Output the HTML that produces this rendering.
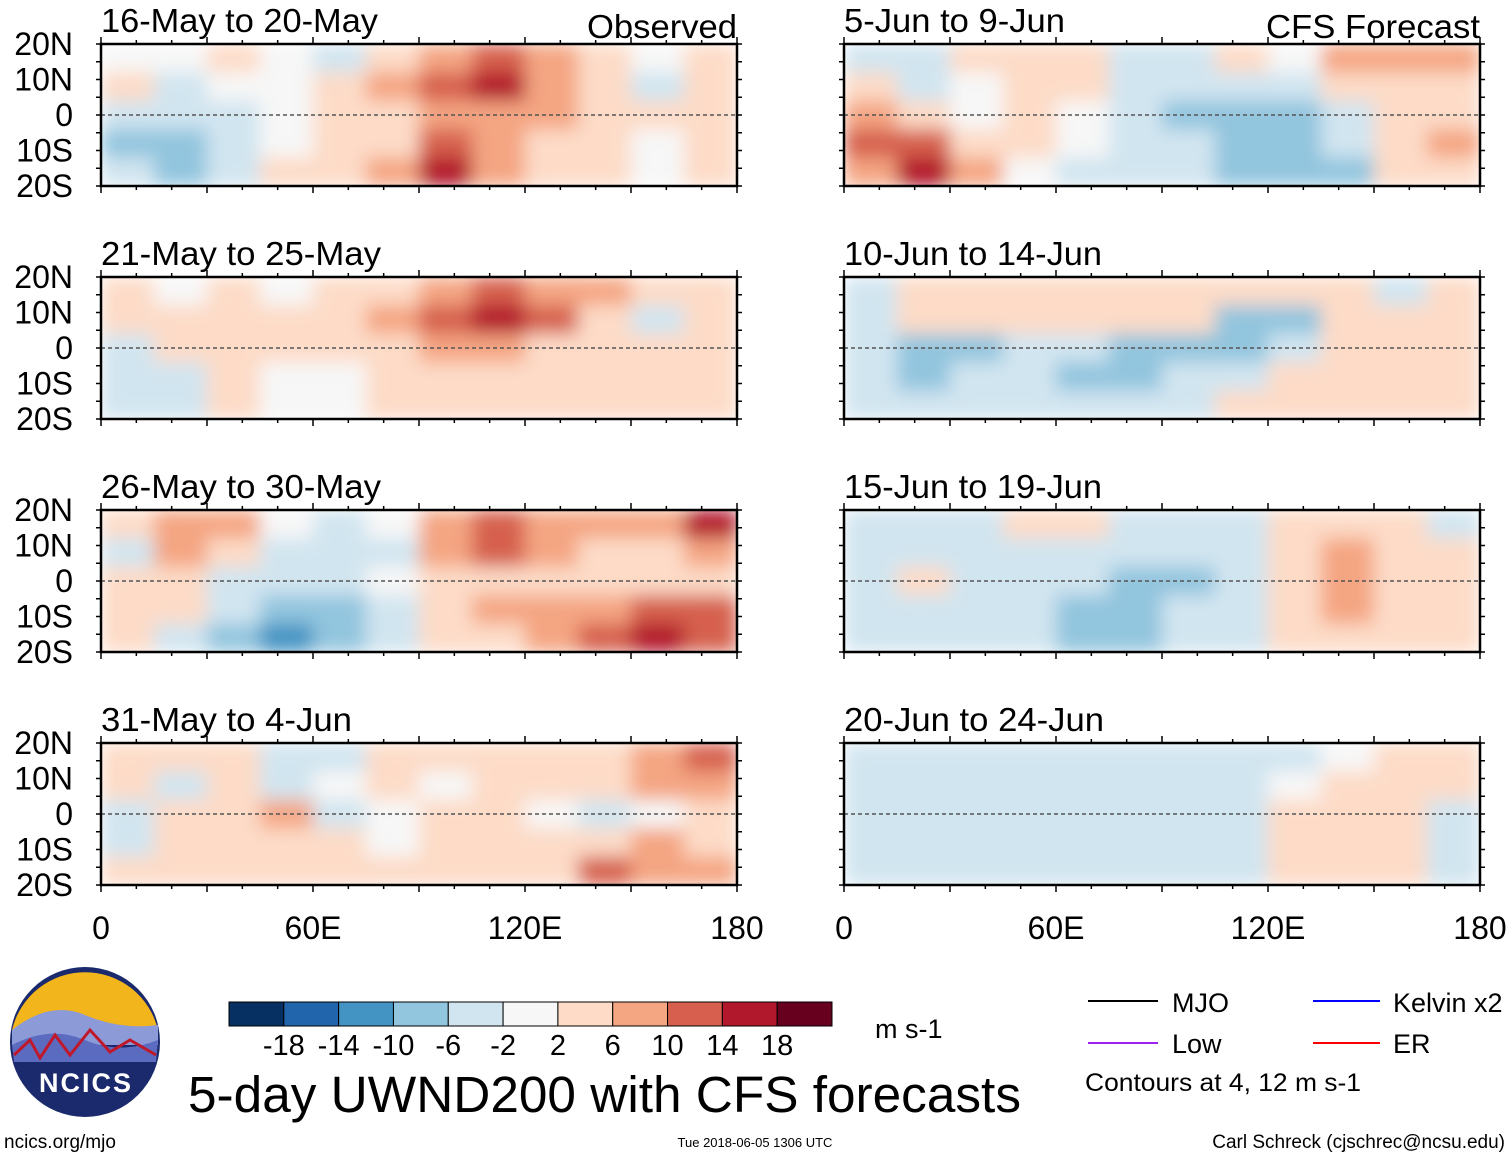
<!DOCTYPE html>
<html><head><meta charset="utf-8">
<style>
html,body{margin:0;padding:0;background:#fff;}
body{width:1510px;height:1158px;overflow:hidden;font-family:"Liberation Sans",sans-serif;}
</style></head>
<body>
<svg id="chart" width="1510" height="1158" viewBox="0 0 1510 1158" xmlns="http://www.w3.org/2000/svg" font-family="Liberation Sans, sans-serif">
<defs>
<filter id="blur" x="0" y="0" width="1" height="1"><feGaussianBlur stdDeviation="9" edgeMode="duplicate"/></filter>
</defs>
<g id="panels"></g>
<g>
<circle cx="85" cy="1042" r="75" fill="#1a2a6c"/>
<path d="M12,1030 A75,75 0 0 1 158,1030 Z" fill="#f2b51c"/>
<path d="M12,1030 Q50,1000 85,1015 T158,1025 L158,1045 L12,1045 Z" fill="#8c9ad8"/>
<path d="M12,1045 Q50,1025 85,1040 T158,1040 L156,1062 L14,1062 Z" fill="#5b6bc0"/>
<path d="M14,1055 L30,1040 L40,1058 L55,1035 L70,1055 L90,1030 L110,1052 L130,1040 L156,1055" stroke="#c0182b" stroke-width="3" fill="none"/>
<text x="86" y="1092" font-size="27" font-weight="bold" fill="#fff" text-anchor="middle" letter-spacing="2">NCICS</text>
</g>
<g id="cbar"></g>
<text x="875" y="1038" font-size="27">m s-1</text>
<text x="188" y="1112" font-size="51" textLength="833" lengthAdjust="spacingAndGlyphs">5-day UWND200 with CFS forecasts</text>
<g font-size="27">
<line x1="1088" y1="1001" x2="1158" y2="1001" stroke="#000" stroke-width="2"/><text x="1172" y="1012">MJO</text>
<line x1="1313" y1="1001" x2="1380" y2="1001" stroke="#0000ff" stroke-width="2"/><text x="1393" y="1012">Kelvin x2</text>
<line x1="1088" y1="1043" x2="1158" y2="1043" stroke="#a020f0" stroke-width="2"/><text x="1172" y="1053">Low</text>
<line x1="1313" y1="1043" x2="1380" y2="1043" stroke="#ff0000" stroke-width="2"/><text x="1393" y="1053">ER</text>
<text x="1085" y="1091" font-size="25" textLength="276" lengthAdjust="spacingAndGlyphs">Contours at 4, 12 m s-1</text>
</g>
<text x="4" y="1148" font-size="19">ncics.org/mjo</text>
<text x="755" y="1147" font-size="13" text-anchor="middle">Tue 2018-06-05 1306 UTC</text>
<text x="1505" y="1148" font-size="19" text-anchor="end">Carl Schreck (cjschrec@ncsu.edu)</text>
</svg>
<script>
const titles=["16-May to 20-May","21-May to 25-May","26-May to 30-May","31-May to 4-Jun","5-Jun to 9-Jun","10-Jun to 14-Jun","15-Jun to 19-Jun","20-Jun to 24-Jun"];
const latTicks=["20N","10N","0","10S","20S"];
const lonTicks=["0","60E","120E","180"];
const cbarLabels=["-18","-14","-10","-6","-2","2","6","10","14","18"];
const p1=[[0,0,2,0,-2,4,8,10,6,2,0,2],[2,-2,0,0,2,6,12,14,8,2,-4,2],[-2,-4,-2,0,2,2,6,8,6,2,2,2],[-6,-6,-2,0,2,4,10,8,4,2,0,2],[-4,-6,-2,2,2,6,14,8,4,2,0,2]];
const p2=[[2,0,2,0,2,4,8,12,8,6,4,2],[2,4,4,4,4,6,10,14,10,4,-2,2],[-2,2,2,4,4,4,6,6,4,2,2,2],[-2,-2,2,0,0,2,2,4,2,2,2,2],[-2,-2,2,0,0,2,4,4,2,2,4,4]];
const p3=[[2,8,6,0,-2,0,8,10,6,6,8,14],[-2,6,2,-2,-2,-2,6,12,6,4,4,6],[2,4,-2,-4,-4,0,4,4,4,2,4,4],[4,2,-4,-8,-6,-2,2,6,6,8,10,10],[4,-2,-6,-10,-8,-2,2,4,6,10,14,10]];
const p4=[[4,2,2,-2,-2,2,2,4,2,2,8,12],[2,-2,2,-2,0,2,0,4,2,2,6,6],[-2,2,4,8,-2,0,2,2,0,-2,0,2],[-2,2,4,4,2,0,2,4,2,4,6,4],[2,2,2,2,2,2,4,4,4,10,8,6]];
const p5=[[-2,-2,2,2,2,-2,-2,2,0,6,8,8],[2,-2,0,2,2,-2,-2,-4,-2,2,2,2],[8,4,0,2,0,-2,-6,-8,-6,-2,2,4],[10,12,4,2,0,-2,-4,-8,-8,-4,2,8],[8,14,6,0,-2,-2,-4,-6,-8,-6,2,4]];
const p6=[[-2,2,2,2,2,4,2,4,4,2,-2,2],[-2,2,2,2,4,4,2,-8,-6,2,4,2],[-4,-6,-6,-4,-4,-6,-8,-6,-2,2,4,2],[-4,-6,-4,-2,-6,-6,-4,-2,2,2,2,2],[-2,-2,-4,-2,-4,-2,-2,2,4,4,2,2]];
const p7=[[-2,-2,-2,2,2,-2,-4,-2,2,4,2,-2],[-2,-2,-2,-4,-2,-4,-4,-2,4,6,4,2],[-2,4,-2,-2,-4,-6,-8,-4,2,6,4,2],[-4,-2,-4,-4,-6,-6,-4,-2,4,6,4,2],[-4,-2,-2,-4,-6,-6,-4,-2,4,4,2,2]];
const p8=[[-2,-2,-2,-2,-2,-2,-2,-2,-2,0,2,2],[-4,-2,-2,-2,-2,-2,-2,-2,0,2,2,2],[-4,-2,-2,-2,-2,-2,-2,-2,2,2,2,-2],[-4,-4,-2,-4,-2,-2,-2,-2,2,2,2,-2],[-4,-2,-2,-2,-2,-2,-2,-2,2,2,2,-2]];
const panelData=[p1,p2,p3,p4,p5,p6,p7,p8];
const colors=["#053061","#2166ac","#4393c3","#92c5de","#d1e5f0","#f7f7f7","#fddbc7","#f4a582","#d6604d","#b2182b","#67001f"];
function colorFor(v){
  if(v<=-18)return colors[0];if(v<=-14)return colors[1];if(v<=-10)return colors[2];if(v<=-6)return colors[3];if(v<=-2)return colors[4];
  if(v<2)return colors[5];if(v<6)return colors[6];if(v<10)return colors[7];if(v<14)return colors[8];if(v<18)return colors[9];return colors[10];
}
const NS="http://www.w3.org/2000/svg";
function mk(t,a,p){const e=document.createElementNS(NS,t);for(const k in a)e.setAttribute(k,a[k]);p.appendChild(e);return e;}
const root=document.getElementById('panels');
const W=636,H=142,rowsY=[44,277,510,743],colsX=[101,844];
panelData.forEach((d,i)=>{
  const x0=colsX[i<4?0:1],y0=rowsY[i%4];
  const g=mk('g',{},root);
  
  
  const xs=lon=>x0+lon/180*W, ys=lat=>y0+(20-lat)/40*H;
  const cp=mk('clipPath',{id:'cp'+i},g);mk('rect',{x:x0,y:y0,width:W,height:H},cp);
  const hg=mk('g',{'clip-path':'url(#cp'+i+')'},g);
  const bg=mk('g',{filter:'url(#blur)'},hg);
  const nr=d.length,nc=d[0].length;
  d.forEach((row,r)=>row.forEach((v,c)=>{
    const la=20-r*40/nr,lo=c*180/nc;
    const re=mk('rect',{x:xs(lo),y:ys(la),width:xs(lo+180/nc)-xs(lo)+0.5,height:ys(la-40/nr)-ys(la)+0.5,fill:colorFor(v)},bg);
    
    
  }));
  const eq=mk('line',{x1:x0,x2:x0+W,y1:ys(0),y2:ys(0),stroke:'#555','stroke-dasharray':'4,3','stroke-width':1.5},g);
  
  
  const fr=mk('rect',{x:x0,y:y0,width:W,height:H,fill:'none',stroke:'#000','stroke-width':2.5},g);
  
  
  for(let lo=0;lo<=180;lo+=10){const L=lo%30==0?7:4;mk('line',{x1:xs(lo),x2:xs(lo),y1:y0,y2:y0-L,stroke:'#000','stroke-width':1.5},g);mk('line',{x1:xs(lo),x2:xs(lo),y1:y0+H,y2:y0+H+L,stroke:'#000','stroke-width':1.5},g);}
  for(let la=-20;la<=20;la+=5){mk('line',{x1:x0,x2:x0-5,y1:ys(la),y2:ys(la),stroke:'#000','stroke-width':1.5},g);mk('line',{x1:x0+W,x2:x0+W+5,y1:ys(la),y2:ys(la),stroke:'#000','stroke-width':1.5},g);}
  const tw=[277,280,280,251,221,258,258,260][i];
  const t=mk('text',{x:x0,y:y0-12,'font-size':33,textLength:tw,lengthAdjust:'spacingAndGlyphs'},g);t.textContent=titles[i];
  
  
  if(i==0||i==4){const s=mk('text',{x:x0+W,y:y0-6,'font-size':33,'text-anchor':'end',textLength:i==0?150:214,lengthAdjust:'spacingAndGlyphs'},g);s.textContent=i==0?'Observed':'CFS Forecast';
    
    }
  if(i<4){latTicks.forEach((lb,k)=>{const tt=mk('text',{x:73,y:ys(20-k*10)+11,'font-size':32,'text-anchor':'end'},g);tt.textContent=lb;
    
    });}
  if(i%4==3){lonTicks.forEach((lb,k)=>{const tt=mk('text',{x:xs(k*60),y:y0+H+54,'font-size':32,'text-anchor':'middle'},g);tt.textContent=lb;
    
    });}
});
const cb=document.getElementById('cbar');
const cx0=229,cw=603/11;
colors.forEach((c,k)=>{const r=mk('rect',{x:cx0+k*cw,y:1002,width:cw,height:24,fill:c,stroke:'#000','stroke-width':1},cb);
  
  });
cbarLabels.forEach((lb,k)=>{const t=mk('text',{x:cx0+(k+1)*cw,y:1055,'font-size':29,'text-anchor':'middle'},cb);t.textContent=lb;
  
  });
</script>
</body></html>
